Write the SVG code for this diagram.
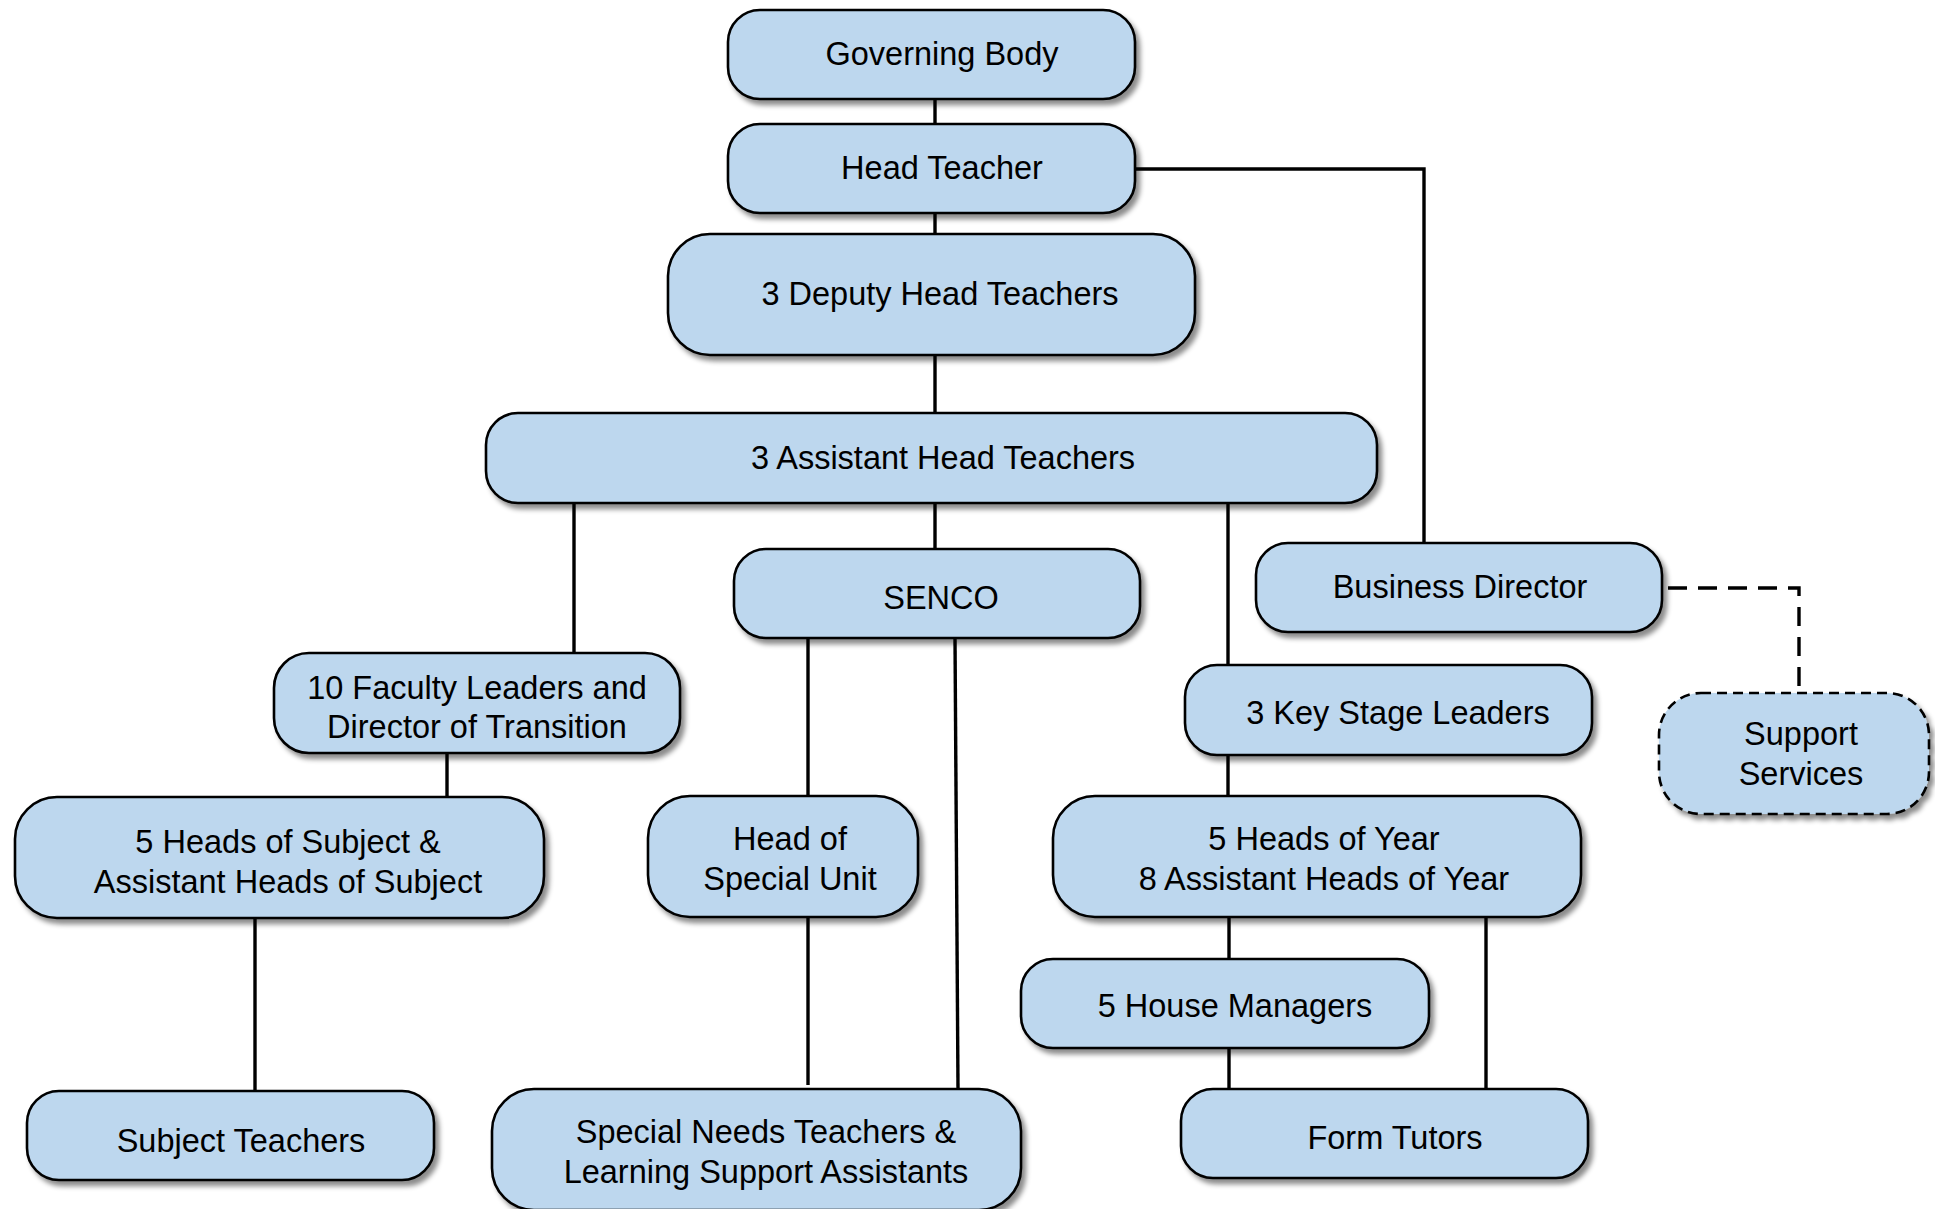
<svg xmlns="http://www.w3.org/2000/svg" width="1935" height="1209" viewBox="0 0 1935 1209">
<defs>
<filter id="sh" x="-5%" y="-10%" width="115%" height="130%">
<feDropShadow dx="4" dy="5" stdDeviation="2.5" flood-color="#000" flood-opacity="0.45"/>
</filter>
<style>
.box{fill:#BDD7EE;stroke:#000;stroke-width:2.6;filter:url(#sh)}
.dbox{fill:#BDD7EE;stroke:#000;stroke-width:2.6;stroke-dasharray:10 6;filter:url(#sh)}
.t{font-family:"Liberation Sans",Arial,sans-serif;font-size:32.5px;fill:#000;text-anchor:middle}
.c{fill:none;stroke:#000;stroke-width:3.4}
.cd{fill:none;stroke:#000;stroke-width:3.4;stroke-dasharray:19 11}
</style>
</defs>
<rect width="1935" height="1209" fill="#fff"/>
<g id="connectors">
<path class="c" d="M935 99V124"/>
<path class="c" d="M935 213V234"/>
<path class="c" d="M935 355V413"/>
<path class="c" d="M1135 169H1424V543"/>
<path class="c" d="M574 503V653"/>
<path class="c" d="M935 503V549"/>
<path class="c" d="M1228 503V665"/>
<path class="c" d="M1228 755V796"/>
<path class="c" d="M447 753V797"/>
<path class="c" d="M255 918V1091"/>
<path class="c" d="M808 638V796"/>
<path class="c" d="M808 917V1085"/>
<path class="c" d="M955 638L958 1089"/>
<path class="c" d="M1229 917V959"/>
<path class="c" d="M1229 1048V1089"/>
<path class="c" d="M1486 917V1089"/>
<path class="cd" d="M1668 588H1799V693"/>
</g>
<g id="governing-body"><rect class="box" x="728" y="10" width="407" height="89" rx="32"/><text class="t" x="942" y="65">Governing Body</text></g>
<g id="head-teacher"><rect class="box" x="728" y="124" width="407" height="89" rx="32"/><text class="t" x="942" y="179">Head Teacher</text></g>
<g id="deputy-heads"><rect class="box" x="668" y="234" width="527" height="121" rx="42"/><text class="t" x="940" y="305">3 Deputy Head Teachers</text></g>
<g id="assistant-heads"><rect class="box" x="486" y="413" width="891" height="90" rx="32"/><text class="t" x="943" y="469">3 Assistant Head Teachers</text></g>
<g id="senco"><rect class="box" x="734" y="549" width="406" height="89" rx="32"/><text class="t" x="941" y="609">SENCO</text></g>
<g id="business-director"><rect class="box" x="1256" y="543" width="406" height="89" rx="32"/><text class="t" x="1460" y="598">Business Director</text></g>
<g id="support-services"><rect class="dbox" x="1659" y="693" width="270" height="121" rx="42"/><text class="t" x="1801" y="745">Support</text><text class="t" x="1801" y="785">Services</text></g>
<g id="faculty-leaders"><rect class="box" x="274" y="653" width="406" height="100" rx="35"/><text class="t" x="477" y="699">10 Faculty Leaders and</text><text class="t" x="477" y="738">Director of Transition</text></g>
<g id="key-stage-leaders"><rect class="box" x="1185" y="665" width="407" height="90" rx="32"/><text class="t" x="1398" y="724">3 Key Stage Leaders</text></g>
<g id="heads-of-subject"><rect class="box" x="15" y="797" width="529" height="121" rx="42"/><text class="t" x="288" y="853">5 Heads of Subject &amp;</text><text class="t" x="288" y="893">Assistant Heads of Subject</text></g>
<g id="head-special-unit"><rect class="box" x="648" y="796" width="270" height="121" rx="42"/><text class="t" x="790" y="850">Head of</text><text class="t" x="790" y="890">Special Unit</text></g>
<g id="heads-of-year"><rect class="box" x="1053" y="796" width="528" height="121" rx="42"/><text class="t" x="1324" y="850">5 Heads of Year</text><text class="t" x="1324" y="890">8 Assistant Heads of Year</text></g>
<g id="house-managers"><rect class="box" x="1021" y="959" width="408" height="89" rx="32"/><text class="t" x="1235" y="1017">5 House Managers</text></g>
<g id="subject-teachers"><rect class="box" x="27" y="1091" width="407" height="89" rx="32"/><text class="t" x="241" y="1152">Subject Teachers</text></g>
<g id="special-needs-teachers"><rect class="box" x="492" y="1089" width="529" height="121" rx="42"/><text class="t" x="766" y="1143">Special Needs Teachers &amp;</text><text class="t" x="766" y="1183">Learning Support Assistants</text></g>
<g id="form-tutors"><rect class="box" x="1181" y="1089" width="407" height="89" rx="32"/><text class="t" x="1395" y="1149">Form Tutors</text></g>
</svg>
